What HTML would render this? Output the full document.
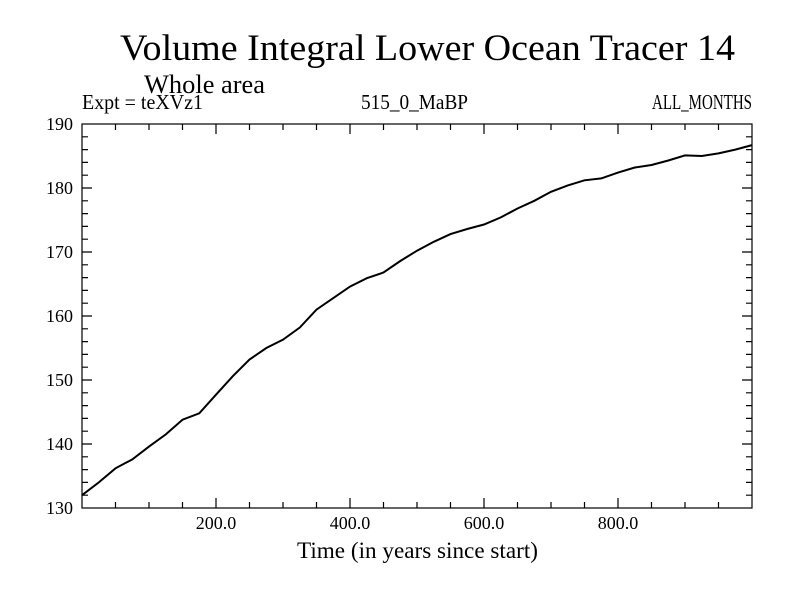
<!DOCTYPE html>
<html><head><meta charset="utf-8"><style>
body{margin:0;background:#fff;}
svg{display:block;font-family:"Liberation Serif",serif;}
</style></head><body>
<svg id="chart" width="800" height="600">
<rect width="800" height="600" fill="#fff"/>
<text x="120" y="60" font-size="37" textLength="615" lengthAdjust="spacingAndGlyphs">Volume Integral Lower Ocean Tracer 14</text>
<text x="144" y="93" font-size="26" textLength="121" lengthAdjust="spacingAndGlyphs">Whole area</text>
<text x="82" y="109" font-size="21" textLength="121" lengthAdjust="spacingAndGlyphs">Expt = teXVz1</text>
<text x="361" y="109" font-size="21" textLength="107" lengthAdjust="spacingAndGlyphs">515_0_MaBP</text>
<text x="652" y="109" font-size="21" textLength="100" lengthAdjust="spacingAndGlyphs">ALL_MONTHS</text>
<text x="297" y="558" font-size="23" textLength="241" lengthAdjust="spacingAndGlyphs">Time (in years since start)</text>
<g id="axes"></g>
<rect x="82" y="124" width="670" height="384" fill="none" stroke="#000" stroke-width="1.2"/>
</svg>
<script>
const years=[0,25,50,75,100,125,150,175,200,225,250,275,300,325,350,375,400,425,450,475,500,525,550,575,600,625,650,675,700,725,750,775,800,825,850,875,900,925,950,975,1000];
const values=[132.0,134.0,136.2,137.6,139.6,141.5,143.8,144.8,147.7,150.6,153.2,155.0,156.3,158.2,161.0,162.8,164.6,165.9,166.8,168.6,170.2,171.6,172.8,173.6,174.3,175.4,176.8,178.0,179.4,180.4,181.2,181.5,182.4,183.2,183.6,184.3,185.1,185.0,185.4,186.0,186.7];
const xTickLabels=[200,400,600,800];
const yTickLabels=[130,140,150,160,170,180,190];
const L=82,R=752,T=124,B=508,X0=0,X1=1000,Y0=130,Y1=190;
const sx=v=>L+(v-X0)/(X1-X0)*(R-L);
const sy=v=>B-(v-Y0)/(Y1-Y0)*(B-T);
const NS="http://www.w3.org/2000/svg";
const g=document.getElementById('axes');
function mk(t,a){const e=document.createElementNS(NS,t);for(const k in a)e.setAttribute(k,a[k]);g.appendChild(e);return e;}
let d="";
for(let v=50;v<1000;v+=50){const x=sx(v),len=v%200===0?10:6;
 d+=`M${x},${B}v${-len}M${x},${T}v${len}`;}
for(let v=132;v<190;v+=2){const y=sy(v),len=v%10===0?10:6;
 d+=`M${L},${y}h${len}M${R},${y}h${-len}`;}
const ticks=mk('path',{d:d,stroke:'#000','stroke-width':1.2,fill:'none'});


xTickLabels.forEach(v=>{const t=mk('text',{x:sx(v),y:529,'font-size':18,'text-anchor':'middle'});t.textContent=v.toFixed(1);
 
 });
yTickLabels.forEach(v=>{const t=mk('text',{x:73,y:sy(v)+6,'font-size':18,'text-anchor':'end'});t.textContent=v;
 
 });
const pts=years.map((y,i)=>sx(y).toFixed(1)+','+sy(values[i]).toFixed(1)).join(' ');
const line=mk('polyline',{points:pts,fill:'none',stroke:'#000','stroke-width':2});


</script>
</body></html>
